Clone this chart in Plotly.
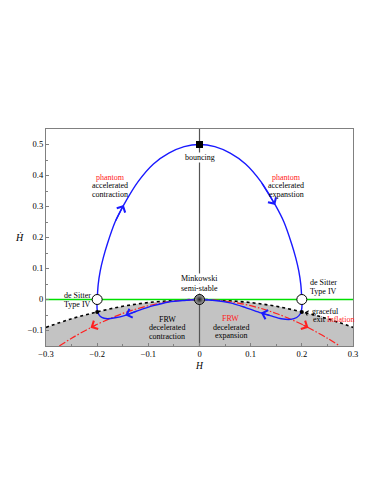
import plotly.graph_objects as go

# axis ranges
H_RANGE = [-0.3, 0.3]
HDOT_RANGE = [-0.15, 0.55]

# boundary of the shaded (decelerated) region, dotted curve
H_bound = [-0.3, -0.25, -0.2, -0.15, -0.1, -0.05, 0, 0.05, 0.1, 0.15, 0.2, 0.25, 0.3]
Hdot_bound = [-0.09, -0.062, -0.04, -0.022, -0.01, -0.003, 0, -0.003, -0.01, -0.022, -0.04, -0.062, -0.09]

# red dash-dot (inflation) curve
H_red = [-0.274, -0.25, -0.213, -0.2, -0.15, -0.1, -0.05, 0, 0.05, 0.1, 0.15, 0.2, 0.213, 0.25, 0.274]
Hdot_red = [-0.15, -0.125, -0.091, -0.08, -0.045, -0.02, -0.005, 0, -0.005, -0.02, -0.045, -0.08, -0.091, -0.125, -0.15]

# blue orbit, upper arc (left de Sitter -> bouncing -> right de Sitter)
H_up = [-0.2, -0.198, -0.194, -0.188, -0.18, -0.165, -0.148, -0.12, -0.09, -0.06, -0.03, 0,
        0.03, 0.06, 0.09, 0.12, 0.148, 0.165, 0.18, 0.188, 0.194, 0.198, 0.2]
Hdot_up = [0, 0.048, 0.092, 0.135, 0.18, 0.25, 0.305, 0.38, 0.437, 0.472, 0.493, 0.5,
           0.493, 0.472, 0.437, 0.38, 0.305, 0.25, 0.18, 0.135, 0.092, 0.048, 0]

# blue orbit, lower right (right de Sitter -> Minkowski)
H_lr = [0.2, 0.2, 0.197, 0.19, 0.178, 0.16, 0.14, 0.12, 0.09, 0.06, 0.03, 0]
Hdot_lr = [0, -0.028, -0.046, -0.058, -0.064, -0.062, -0.053, -0.043, -0.026, -0.011, -0.003, 0]

# blue orbit, lower left (Minkowski -> left de Sitter)
H_ll = [0, -0.03, -0.06, -0.09, -0.12, -0.145, -0.165, -0.18, -0.191, -0.197, -0.2, -0.2]
Hdot_ll = [0, -0.003, -0.008, -0.02, -0.036, -0.051, -0.059, -0.062, -0.058, -0.048, -0.033, 0]

# special points
H_bounce, Hdot_bounce = [0], [0.5]
H_mink, Hdot_mink = [0], [0]
H_desitter, Hdot_desitter = [-0.2, 0.2], [0, 0]
H_exit, Hdot_exit = [-0.2, 0.2], [-0.04, -0.04]

FONT = "Liberation Serif"
BLUE = "#1a1aff"
RED = "#ff2020"
GREEN = "#00e000"
INK = "#000000"

fig = go.Figure()

# shaded region under the dotted curve
fig.add_trace(go.Scatter(x=H_bound, y=[HDOT_RANGE[0]] * len(H_bound), mode="lines",
                         line=dict(width=0), hoverinfo="skip"))
fig.add_trace(go.Scatter(x=H_bound, y=Hdot_bound, mode="lines", fill="tonexty",
                         fillcolor="#c3c3c3", line=dict(color=INK, width=1.6, dash="dot", shape="spline")))

# zero lines
fig.add_trace(go.Scatter(x=[0, 0], y=HDOT_RANGE, mode="lines", line=dict(color="#555555", width=1.2)))
fig.add_trace(go.Scatter(x=H_RANGE, y=[0, 0], mode="lines", line=dict(color=GREEN, width=1.4)))

# inflation curve
fig.add_trace(go.Scatter(x=H_red, y=Hdot_red, mode="lines",
                         line=dict(color=RED, width=1.2, dash="7px,2px,1.5px,2px", shape="spline")))

# blue orbit
for hx, hy in [(H_up, Hdot_up), (H_lr, Hdot_lr), (H_ll, Hdot_ll)]:
    fig.add_trace(go.Scatter(x=hx, y=hy, mode="lines",
                             line=dict(color=BLUE, width=1.4, shape="spline", smoothing=0.8)))

# markers
fig.add_trace(go.Scatter(x=H_exit, y=Hdot_exit, mode="markers",
                         marker=dict(color=INK, size=4)))
fig.add_trace(go.Scatter(x=H_desitter, y=Hdot_desitter, mode="markers",
                         marker=dict(color="white", size=10, line=dict(color=INK, width=1))))
fig.add_trace(go.Scatter(x=H_bounce, y=Hdot_bounce, mode="markers",
                         marker=dict(color=INK, symbol="square", size=7)))
fig.add_trace(go.Scatter(x=H_mink, y=Hdot_mink, mode="markers",
                         marker=dict(color="#aaaaaa", size=10, line=dict(color=INK, width=1),
                                     gradient=dict(type="radial", color="#222222"))))


def arrow(xs, ys, i, j, color, width=1.3):
    # arrow head at point i, tail at point j of a curve
    fig.add_annotation(x=xs[i], y=ys[i], ax=xs[j], ay=ys[j], xref="x", yref="y",
                       axref="x", ayref="y", text="", showarrow=True, arrowhead=4,
                       arrowsize=1.4, arrowwidth=width, arrowcolor=color, standoff=0)


arrow(H_up, Hdot_up, 6, 5, BLUE)
arrow(H_up, Hdot_up, 16, 15, BLUE)
arrow(H_lr, Hdot_lr, 7, 6, BLUE)
arrow(H_ll, Hdot_ll, 5, 4, BLUE)
arrow(H_red, Hdot_red, 2, 3, RED)
arrow(H_red, Hdot_red, 12, 11, RED)


def label(x, y, text, color=INK, align="center", bg=None):
    fig.add_annotation(x=x, y=y, xref="x", yref="y", text=text, showarrow=False,
                       xanchor=align, yanchor="middle", bgcolor=bg, borderpad=0,
                       font=dict(family=FONT, size=8, color=color))


label(-0.174, 0.393, "phantom", RED)
label(-0.174, 0.367, "accelerated")
label(-0.174, 0.339, "contraction")
label(0.170, 0.393, "phantom", RED)
label(0.170, 0.367, "accelerated")
label(0.170, 0.339, "expanstion")
label(0, 0.459, "bouncing", bg="white")
label(0, 0.068, "Minkowski", bg="white")
label(0, 0.034, "semi-stable", bg="white")
label(-0.2386, 0.012, "de Sitter")
label(-0.2386, -0.016, "Type IV")
label(0.214, 0.054, "de Sitter", align="left")
label(0.214, 0.025, "Type IV", align="left")
label(-0.063, -0.064, "FRW")
label(-0.063, -0.091, "decelerated")
label(-0.063, -0.119, "contraction")
label(0.0615, -0.062, "FRW", RED)
label(0.0615, -0.089, "decelerated")
label(0.0615, -0.117, "expansion")
label(0.2185, -0.039, "graceful", align="left")
label(0.2195, -0.066, "exit <span style='color:%s'>Inflation</span>" % RED, align="left")

# small pointer to the graceful exit point
fig.add_annotation(x=0.206, y=-0.041, ax=0.214, ay=-0.045, xref="x", yref="y",
                   axref="x", ayref="y", text="", showarrow=True, arrowhead=4,
                   arrowsize=1.2, arrowwidth=0.8, arrowcolor=INK, standoff=0)

# axis titles
fig.add_annotation(x=0.5, y=-0.09, xref="paper", yref="paper", text="<i>H</i>",
                   xanchor="center", yanchor="middle", showarrow=False,
                   font=dict(family=FONT, size=9.5, color=INK))
fig.add_annotation(x=-0.085, y=0.498, xref="paper", yref="paper", text="<i>Ḣ</i>",
                   xanchor="center", yanchor="middle", showarrow=False,
                   font=dict(family=FONT, size=10, color=INK))

axis_style = dict(showgrid=False, zeroline=False, showline=True, mirror=True,
                  linecolor="#808080", linewidth=1.2, ticks="inside", ticklen=3,
                  tickcolor="#808080", tickfont=dict(family=FONT, size=8.5, color=INK),
                  minor=dict(ticks="inside", ticklen=2, tickcolor="#808080"))

fig.update_xaxes(range=H_RANGE, dtick=0.1, tick0=0, minor_dtick=0.05, **axis_style)
fig.update_yaxes(range=HDOT_RANGE, dtick=0.1, tick0=0, minor_dtick=0.05, **axis_style)

# the page body adds an 8px offset, so the figure is drawn 8px smaller
fig.update_layout(width=375, height=487, showlegend=False,
                  margin=dict(l=38, r=30, t=121, b=149),
                  plot_bgcolor="white", paper_bgcolor="white",
                  font=dict(family=FONT, color=INK))

fig.write_html("out.html")
